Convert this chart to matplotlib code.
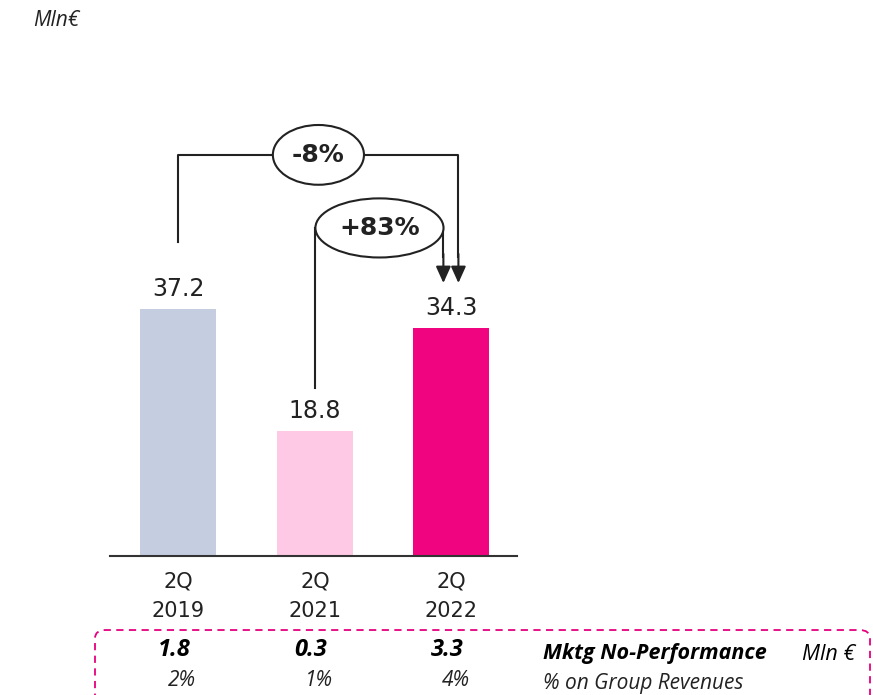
import matplotlib.pyplot as plt
from matplotlib.patches import Ellipse, FancyBboxPatch
from matplotlib.transforms import blended_transform_factory

quarters = ['2Q\n2019', '2Q\n2021', '2Q\n2022']
values = [37.2, 18.8, 34.3]
colors = ['#C4CEE0', '#FDC9E5', '#F0047F']
mktg_values = ['1.8', '0.3', '3.3']
mktg_share = ['2%', '1%', '4%']
growth_vs_2019 = '-8%'
growth_vs_2021 = '+83%'

plt.rcParams['font.family'] = ['DejaVu Sans']
italic_font = ['Open Sans', 'DejaVu Sans']
text_color = '#222222'
magenta = '#E6007E'

fig = plt.figure(figsize=(8.73, 6.95), dpi=100)
ax = fig.add_axes([110 / 873, 0.2, 407 / 873, 0.688])

x = list(range(len(values)))
ax.bar(x, values, width=0.557, color=colors, zorder=2)
ax.set_xlim(-0.5, 2.48)
ax.set_ylim(0, 72)

for xi, v in zip(x, values):
    ax.annotate(f'{v}', (xi, v), xytext=(0, 6), textcoords='offset points',
                ha='center', va='bottom', fontsize=17, color=text_color)

ax.set_xticks(x)
ax.set_xticklabels(quarters, fontsize=15, color=text_color, linespacing=1.6)
ax.tick_params(axis='x', length=0, pad=11)
ax.set_yticks([])
for side in ['top', 'right', 'left']:
    ax.spines[side].set_visible(False)
ax.spines['bottom'].set_color('#333333')
ax.spines['bottom'].set_linewidth(1.5)

# brackets with growth labels
lc = '#222222'
lw = 1.5
arrow_l, arrow_r = 1.941, 2.051
ax.plot([0, 0, arrow_r, arrow_r], [47.3, 60.4, 60.4, 45], color=lc, lw=lw)
ax.plot([1.004, 1.004], [25.3, 49.4], color=lc, lw=lw)
ax.plot([arrow_l, arrow_l], [49.4, 45], color=lc, lw=lw)
for xa in [arrow_l, arrow_r]:
    ax.annotate('', xy=(xa, 41.1), xytext=(xa, 45.5),
                arrowprops=dict(arrowstyle='-|>,head_length=1.0,head_width=0.45',
                                color=lc, lw=lw, shrinkA=0, shrinkB=0))

e1 = Ellipse((1.026, 60.4), 0.667, 9.0, facecolor='white', edgecolor=lc, lw=lw, zorder=3)
e2 = Ellipse((1.473, 49.4), 0.938, 8.9, facecolor='white', edgecolor=lc, lw=lw, zorder=3)
ax.add_patch(e1)
ax.add_patch(e2)
ax.text(1.026, 60.4, growth_vs_2019, ha='center', va='center', fontsize=18,
        fontweight='bold', color=text_color, zorder=4)
ax.text(1.473, 49.4, growth_vs_2021, ha='center', va='center', fontsize=18,
        fontweight='bold', color=text_color, zorder=4)

fig.text(33 / 873, 1 - 21 / 695, 'Mln€', fontsize=15, style='italic',
         family=italic_font, color=text_color, ha='left', va='center')

# marketing no-performance box
box = FancyBboxPatch((95 / 873, -0.03), 775 / 873, 0.0935 + 0.03,
                     boxstyle='round,pad=0,rounding_size=0.012',
                     transform=fig.transFigure, fill=False, edgecolor=magenta,
                     linestyle=(0, (4, 3)), lw=1.3, clip_on=False)
fig.patches.append(box)

trans = blended_transform_factory(ax.transData, fig.transFigure)
for xi, mv, ms in zip(x, mktg_values, mktg_share):
    fig.text(xi - 0.03, 1 - 650 / 695, mv, transform=trans, ha='center', va='center',
             fontsize=17, fontweight='bold', style='italic', family=italic_font,
             color='black')
    fig.text(xi + 0.03, 1 - 681 / 695, ms, transform=trans, ha='center', va='center',
             fontsize=15, style='italic', family=italic_font, color=text_color)

fig.text(543 / 873, 1 - 654 / 695, 'Mktg No-Performance', fontsize=15.5,
         fontweight='bold', style='italic', family=italic_font, color='black',
         ha='left', va='center')
fig.text(802 / 873, 1 - 654 / 695, 'Mln €', fontsize=15.5, style='italic',
         family=italic_font, color='black', ha='left', va='center')
fig.text(543 / 873, 1 - 683 / 695, '% on Group Revenues', fontsize=15,
         style='italic', family=italic_font, color=text_color, ha='left', va='center')

fig.savefig('out.png', dpi=100)
